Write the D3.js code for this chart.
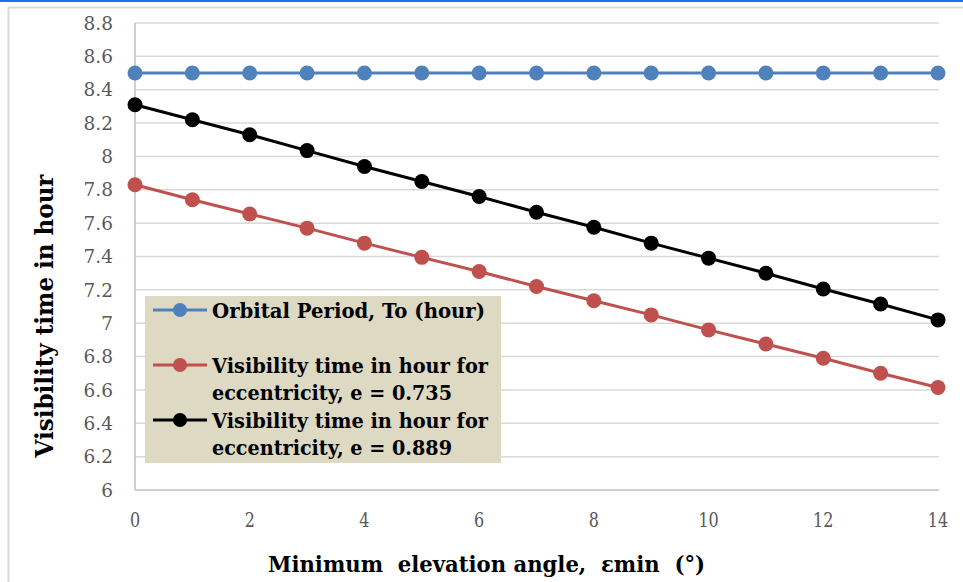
<!DOCTYPE html>
<html><head><meta charset="utf-8">
<script src="https://cdn.jsdelivr.net/npm/d3@7"></script>
<style>body{margin:0;background:#fff;}svg{display:block;}</style>
</head><body>
<svg id="c" width="963" height="582"></svg>
<script>
const elevation = [0,1,2,3,4,5,6,7,8,9,10,11,12,13,14];
const orbitalPeriod = [8.5,8.5,8.5,8.5,8.5,8.5,8.5,8.5,8.5,8.5,8.5,8.5,8.5,8.5,8.5];
const visE0735 = [7.83,7.74,7.655,7.57,7.48,7.395,7.31,7.22,7.135,7.05,6.96,6.875,6.79,6.70,6.615];
const visE0889 = [8.31,8.22,8.13,8.035,7.94,7.85,7.76,7.665,7.575,7.48,7.39,7.30,7.205,7.115,7.02];
const yTicks = [6,6.2,6.4,6.6,6.8,7,7.2,7.4,7.6,7.8,8,8.2,8.4,8.6,8.8];
const xTicks = [0,2,4,6,8,10,12,14];
const seriesNames = [["Orbital Period, To (hour)"], ["Visibility time in hour for","eccentricity, e = 0.735"], ["Visibility time in hour for","eccentricity, e = 0.889"]];
const colors = ["#4f81bd","#c0504d","#000000"];

const svg = d3.select("#c");
const serif = "'DejaVu Serif', 'Liberation Serif', serif";
// top blue line and outer border
svg.append("rect").attr("x",0).attr("y",0).attr("width",963).attr("height",2).attr("fill","#1a73e8");
svg.append("path").attr("d","M8.5,582 V7.5 H963").attr("fill","none").attr("stroke","#d9d9d9").attr("stroke-width",2);

const x = d3.scaleLinear().domain([0,14]).range([135,938]);
const y = d3.scaleLinear().domain([6,8.8]).range([490,23]);

// gridlines
svg.append("g").selectAll("line").data(yTicks.filter(d=>d>6)).join("line")
  .attr("x1",135).attr("x2",939).attr("y1",d=>y(d)).attr("y2",d=>y(d))
  .attr("stroke","#d9d9d9").attr("stroke-width",1.5);

// axes lines
svg.append("line").attr("x1",135).attr("x2",135).attr("y1",y(8.8)).attr("y2",490).attr("stroke","#bfbfbf").attr("stroke-width",1.5);
svg.append("line").attr("x1",135).attr("x2",939).attr("y1",490).attr("y2",490).attr("stroke","#bfbfbf").attr("stroke-width",1.5);

// y ticks
svg.append("g").selectAll("text").data(yTicks).join("text")
  .attr("x",113).attr("y",d=>y(d)).attr("dy","0.36em").attr("text-anchor","end")
  .attr("font-family",serif).attr("font-size",18.5).attr("fill","#595959")
  .text(d=>d3.format("~g")(d));

// x ticks (condensed)
svg.append("g").selectAll("text").data(xTicks).join("text")
  .attr("transform",d=>`translate(${x(d)},527) scale(0.78,1)`)
  .attr("text-anchor","middle")
  .attr("font-family",serif).attr("font-size",20.5).attr("fill","#595959")
  .text(d=>d);

// axis titles
svg.append("text").attr("x",268).attr("y",572)
  .attr("textLength",437).attr("lengthAdjust","spacingAndGlyphs")
  .attr("font-family",serif).attr("font-weight","bold").attr("font-size",23).attr("fill","#000")
  .style("white-space","pre")
  .text("Minimum  elevation angle,  \u03b5min  (\u00b0)");
svg.append("text").attr("transform","translate(53,316) rotate(-90)").attr("x",-141.5)
  .attr("textLength",283).attr("lengthAdjust","spacingAndGlyphs")
  .attr("font-family",serif).attr("font-weight","bold").attr("font-size",24).attr("fill","#000")
  .text("Visibility time in hour");

// series
const series = [orbitalPeriod, visE0735, visE0889];
const line = d3.line().x((d,i)=>x(elevation[i])).y(d=>y(d));
series.forEach((s,k)=>{
  const g = svg.append("g");
  g.append("path").attr("d",line(s)).attr("fill","none").attr("stroke",colors[k]).attr("stroke-width",3);
  g.selectAll("circle").data(s).join("circle")
    .attr("cx",(d,i)=>x(elevation[i])).attr("cy",d=>y(d)).attr("r",7.5).attr("fill",colors[k]);
});

// legend
const lg = svg.append("g");
lg.append("rect").attr("x",145).attr("y",296).attr("width",356).attr("height",167).attr("fill","#ddd9c3");
const entries = [{ly:310, base:318, widths:[273]},{ly:365, base:373, widths:[276,240]},{ly:420, base:428, widths:[276,240]}];
entries.forEach((e,k)=>{
  lg.append("line").attr("x1",153).attr("x2",207).attr("y1",e.ly).attr("y2",e.ly).attr("stroke",colors[k]).attr("stroke-width",3);
  lg.append("circle").attr("cx",180).attr("cy",e.ly).attr("r",7).attr("fill",colors[k]);
  seriesNames[k].forEach((t,j)=>{
    lg.append("text").attr("x",212).attr("y",e.base+j*27)
      .attr("textLength",e.widths[j]).attr("lengthAdjust","spacingAndGlyphs")
      .attr("font-family",serif).attr("font-weight","bold").attr("font-size",21).attr("fill","#000")
      .text(t);
  });
});
</script>
</body></html>
